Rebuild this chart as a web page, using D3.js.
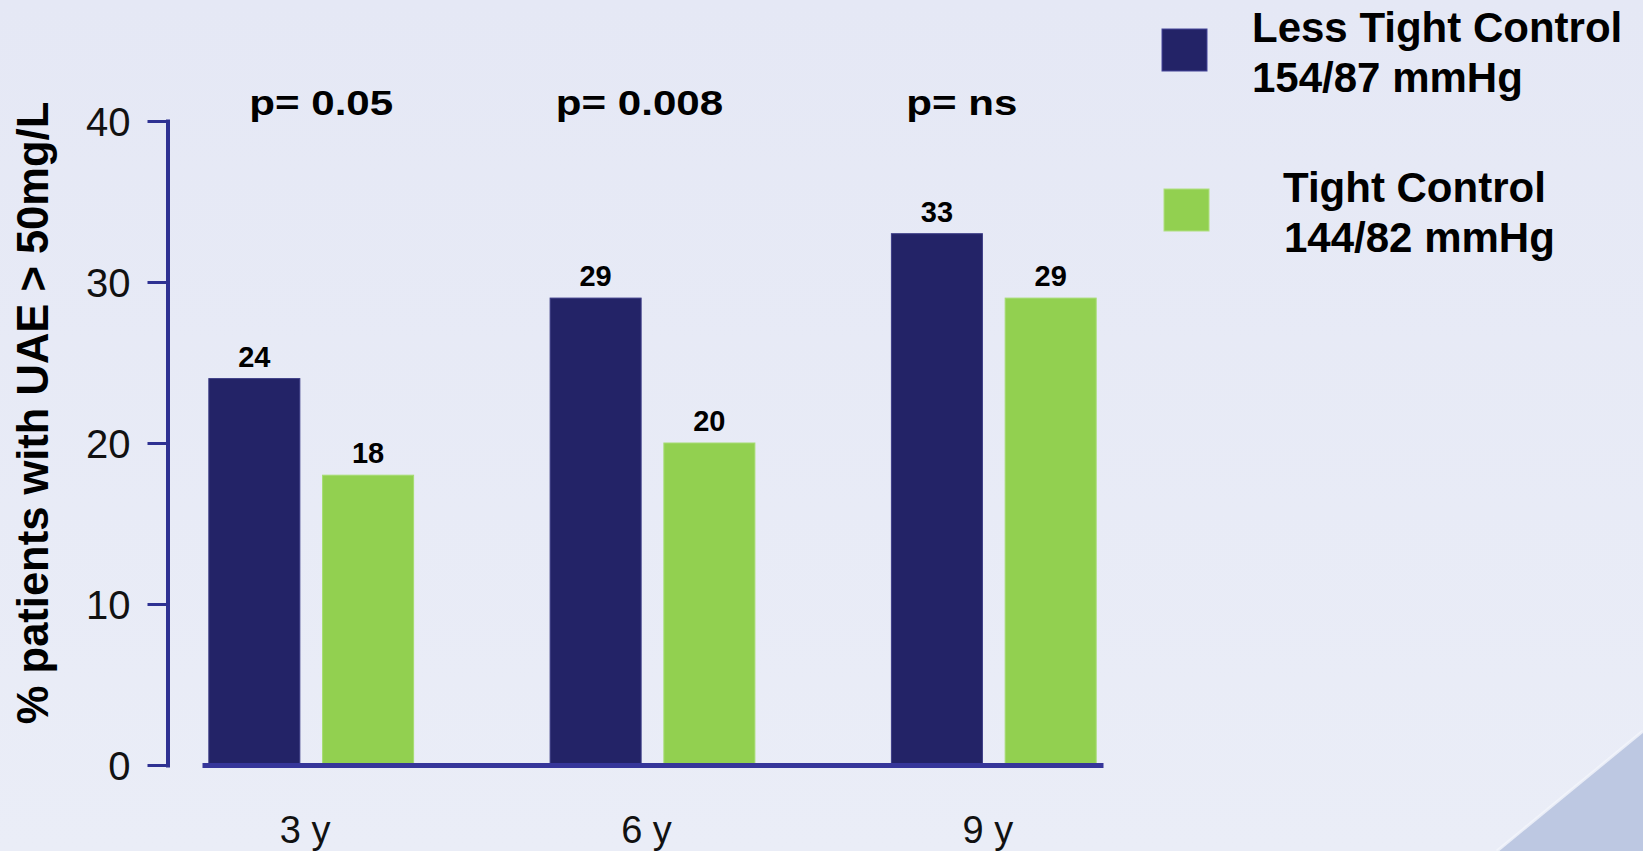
<!DOCTYPE html>
<html>
<head>
<meta charset="utf-8">
<script src="https://cdn.jsdelivr.net/npm/d3@7"></script>
<style>
  html, body { margin: 0; padding: 0; background: #e7eaf6; }
  svg { display: block; font-family: "Liberation Sans", Arial, Helvetica, sans-serif; }
</style>
</head>
<body>
<svg id="chart" width="1643" height="851"></svg>
<script>
// Follow-up times
const categories = ["3 y", "6 y", "9 y"];
// % patients with UAE > 50 mg/L per arm
const lessTight = [24, 29, 33];
const tight = [18, 20, 29];
// Significance per follow-up time
const pValues = ["p= 0.05", "p= 0.008", "p= ns"];
// Y axis ticks
const yTicks = [0, 10, 20, 30, 40];
// Legend entries
const seriesNames = ["Less Tight Control", "Tight Control"];
const seriesSub = ["154/87 mmHg", "144/82 mmHg"];
const seriesColors = ["#232367", "#92d050"];

const W = 1643, H = 851;
const svg = d3.select("#chart");

// background
const defs = svg.append("defs");
const bg = defs.append("linearGradient").attr("id", "bg").attr("x1", 0).attr("y1", 0).attr("x2", 0).attr("y2", 1);
bg.append("stop").attr("offset", "0%").attr("stop-color", "#e5e8f5");
bg.append("stop").attr("offset", "100%").attr("stop-color", "#eaedf7");
svg.append("rect").attr("width", W).attr("height", H).attr("fill", "url(#bg)");

// decorative corner wedge
svg.append("path")
  .attr("d", `M${W},731 L1497,${H} L${W},${H} Z`)
  .attr("fill", "#bdc8e2");
svg.append("line")
  .attr("x1", W).attr("y1", 731).attr("x2", 1497).attr("y2", H)
  .attr("stroke", "#f4f6fc").attr("stroke-width", 3).attr("opacity", 0.8);

// scales
const y = d3.scaleLinear().domain([0, 40]).range([765, 121]);
const x0 = d3.scaleBand().domain(categories).range([202, 1103]).paddingInner(0.4).paddingOuter(0.02);
const x1 = d3.scaleBand().domain([0, 1]).range([0, x0.bandwidth()]).paddingInner(0.2);

// y axis
const yAxis = svg.append("g")
  .attr("transform", "translate(167.5,0)")
  .call(d3.axisLeft(y).tickValues(yTicks).tickSize(20).tickSizeOuter(0).tickPadding(17));
yAxis.select(".domain").attr("stroke", "#2e3192").attr("stroke-width", 4).attr("stroke-linecap", "square");
yAxis.selectAll(".tick line").attr("stroke", "#2e3192").attr("stroke-width", 3);
yAxis.selectAll(".tick text")
  .attr("font-size", 40).attr("fill", "#111").attr("font-family", "Liberation Sans, Arial, sans-serif")
  .attr("dy", "0.35em");

// bars
const groups = svg.append("g").selectAll("g")
  .data(categories)
  .join("g")
  .attr("transform", d => `translate(${x0(d)},0)`);

groups.each(function(cat, i) {
  const vals = [lessTight[i], tight[i]];
  const g = d3.select(this);
  g.selectAll("rect")
    .data(vals)
    .join("rect")
    .attr("x", (d, k) => x1(k))
    .attr("y", d => y(d))
    .attr("width", x1.bandwidth())
    .attr("height", d => y(0) - y(d))
    .attr("fill", (d, k) => seriesColors[k])
    .attr("stroke", (d, k) => k === 0 ? "#3b3b85" : "#a6dc72")
    .attr("stroke-width", 1);
  g.selectAll("text.val")
    .data(vals)
    .join("text")
    .attr("class", "val")
    .attr("x", (d, k) => x1(k) + x1.bandwidth() / 2)
    .attr("y", d => y(d) - 12)
    .attr("text-anchor", "middle")
    .attr("font-size", 29)
    .attr("font-weight", "bold")
    .attr("fill", "#000")
    .text(d => d);
});

// x axis
const xAxis = svg.append("g")
  .attr("transform", "translate(0,765)")
  .call(d3.axisBottom(x0).tickSize(0).tickSizeOuter(0).tickPadding(51));
xAxis.select(".domain").attr("stroke", "#36369a").attr("stroke-width", 5);
xAxis.selectAll(".tick text")
  .attr("font-size", 38).attr("fill", "#111").attr("font-family", "Liberation Sans, Arial, sans-serif")
  .attr("dx", -6);

// p-values above each group
const pShift = [10, -13, -32];
svg.append("g").selectAll("text")
  .data(pValues)
  .join("text")
  .attr("x", (d, i) => x0(categories[i]) + x0.bandwidth() / 2 + pShift[i])
  .attr("y", 115)
  .attr("text-anchor", "middle")
  .attr("font-size", 36)
  .attr("font-weight", "bold")
  .attr("fill", "#000")
  .attr("transform", (d, i) => {
    const cx = x0(categories[i]) + x0.bandwidth() / 2 + pShift[i];
    return `translate(${cx},0) scale(1.17,1) translate(${-cx},0)`;
  })
  .text(d => d);

// y axis title
svg.append("text")
  .attr("transform", "translate(48,413) rotate(-90)")
  .attr("text-anchor", "middle")
  .attr("font-size", 43.5)
  .attr("font-weight", "bold")
  .attr("fill", "#000")
  .text("% patients with UAE > 50mg/L");

// legend
const legendRows = [
  { sq: [1162, 29], tx: 1252, base: 42 },
  { sq: [1164, 189], tx: 1283, base: 202 }
];
const legend = svg.append("g");
legendRows.forEach((r, i) => {
  legend.append("rect")
    .attr("x", r.sq[0]).attr("y", r.sq[1])
    .attr("width", 45).attr("height", 42)
    .attr("fill", seriesColors[i])
    .attr("stroke", i === 0 ? "#45459a" : "#b0e080").attr("stroke-width", 1);
  legend.append("text")
    .attr("x", r.tx).attr("y", r.base)
    .attr("font-size", 42).attr("font-weight", "bold").attr("fill", "#000")
    .text(seriesNames[i]);
  legend.append("text")
    .attr("x", r.tx + (i === 0 ? 0 : 1)).attr("y", r.base + 50)
    .attr("font-size", 42).attr("font-weight", "bold").attr("fill", "#000")
    .text(seriesSub[i]);
});
</script>
</body>
</html>
